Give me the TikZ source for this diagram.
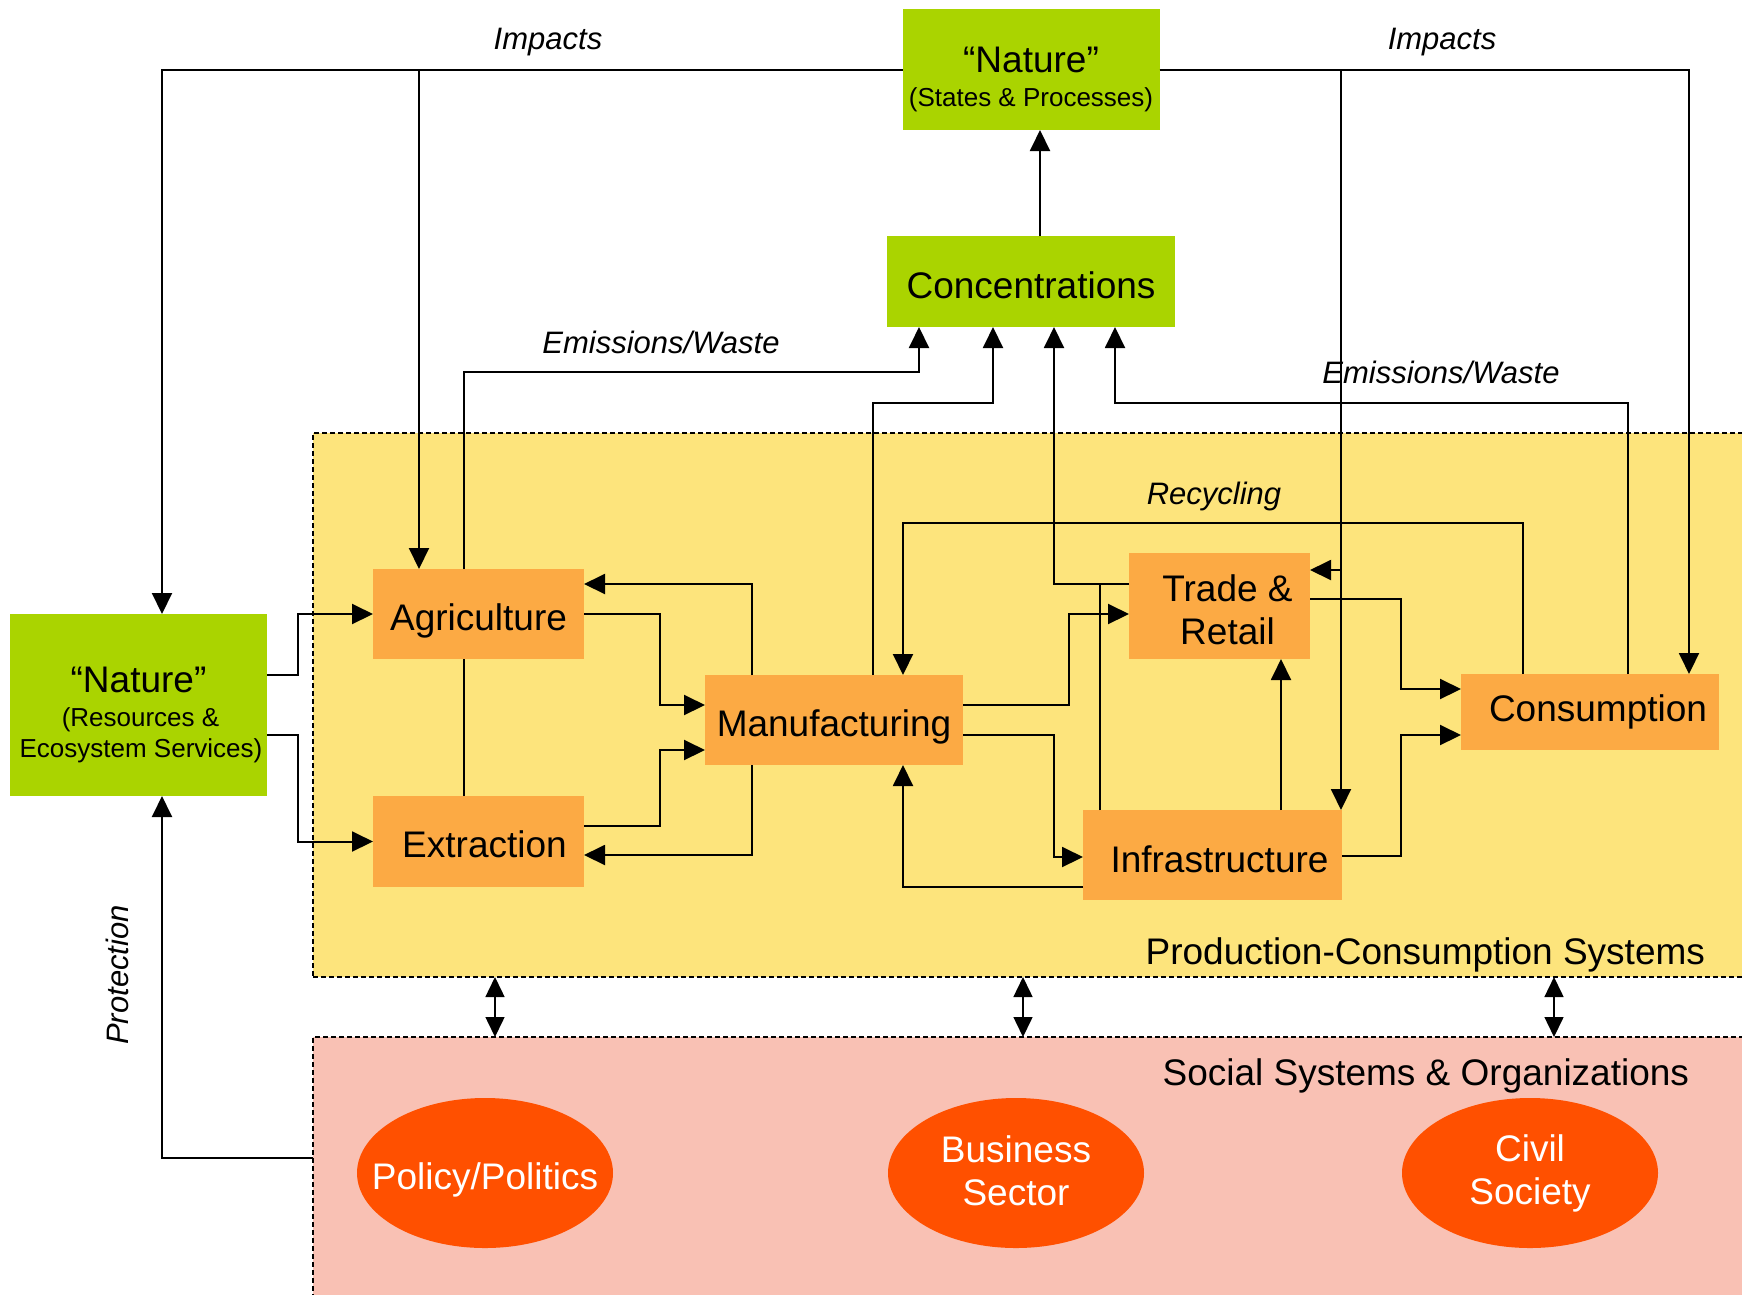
\documentclass[tikz,border=0pt]{standalone}
\usepackage{fontspec}
\setmainfont{Liberation Sans}
\usetikzlibrary{arrows.meta,shapes.geometric}
\definecolor{natgreen}{HTML}{AAD400}
\definecolor{boxorange}{HTML}{FCAA44}
\definecolor{prodyellow}{HTML}{FDE47C}
\definecolor{socpink}{HTML}{F9C1B4}
\definecolor{ellred}{HTML}{FF5000}
\begin{document}
\begin{tikzpicture}[x=1pt,y=-1pt,
  every node/.style={inner sep=0pt, outer sep=0pt},
  box/.style={rectangle, fill=boxorange, font=\fontsize{37}{43}\selectfont, align=center},
  one/.style={text height=32pt, text depth=0pt},
  gbox/.style={rectangle, fill=natgreen, align=center},
  ell/.style={ellipse, fill=ellred, text=white, minimum width=256pt, minimum height=150pt, inner xsep=-25pt, font=\fontsize{37}{43}\selectfont, align=center},
  arr/.style={line width=2pt, -{Triangle[length=21pt,width=20pt]}},
  plain/.style={line width=2pt},
  dbl/.style={line width=1.5pt, {Triangle[length=20pt,width=19pt]}-{Triangle[length=20pt,width=19pt]}},
  lab/.style={font=\itshape\fontsize{31}{36}\selectfont},
  big/.style={font=\fontsize{37}{43}\selectfont},
  region/.style={rectangle, draw=black, line width=1.8pt, dash pattern=on 5pt off 3pt}
]
\useasboundingbox (0,0) rectangle (1742,1294);
\clip (0,0) rectangle (1742,1294);
\fill[white] (0,0) rectangle (1742,1294);

% regions
\node[region, fill=prodyellow, minimum width=1467pt, minimum height=544pt] (prod) at (1046.5,705) {};
\node[region, fill=socpink, minimum width=1467pt, minimum height=273pt] (soc) at (1046.5,1173.5) {};

% boxes
\node[gbox, minimum width=257pt, minimum height=121pt, font=\fontsize{26}{31}\selectfont] (natS) at (1031,69.5)
  {{\fontsize{37}{37}\selectfont\rule{0pt}{45pt}“Nature”}\\[3pt](States \& Processes)};
\node[gbox, minimum width=288pt, minimum height=91pt, big, text height=34pt, text depth=0pt] (conc) at (1031,281.5) {Concentrations};
\node[gbox, minimum width=257pt, minimum height=182pt, font=\fontsize{26}{31}\selectfont] (natR) at (138.5,705)
  {{\fontsize{37}{37}\selectfont\rule{0pt}{45pt}“Nature”}\\[3pt]\hspace*{4pt}(Resources \&\\\hspace*{5pt}Ecosystem Services)};
\node[box, one, minimum width=211pt, minimum height=90pt] (agri) at (478.5,614) {Agriculture};
\node[box, one, minimum width=211pt, minimum height=91pt] (extr) at (478.5,841.5) {\hspace*{12pt}Extraction};
\node[box, one, minimum width=258pt, minimum height=90pt] (manu) at (834,720) {Manufacturing};
\node[box, minimum width=181pt, minimum height=106pt] (trade) at (1219.5,606) {\hspace*{16pt}\rule{0pt}{34pt}Trade \&\\\hspace*{16pt}Retail};
\node[box, one, minimum width=259pt, minimum height=90pt, text height=34pt] (infra) at (1212.5,855) {\hspace*{14pt}Infrastructure};
\node[box, one, minimum width=258pt, minimum height=76pt, text height=18pt] (cons) at (1590,712) {\hspace*{16pt}Consumption};

\node[ell, text height=32pt, text depth=0pt] (pol) at (485,1173) {Policy/Politics};
\node[ell] (bus) at (1016,1173) {Business\\Sector\rule[-4pt]{0pt}{4pt}};
\node[ell] (civ) at (1530,1173) {Civil\\Society};

% labels
\node[lab] (imp1) at (548,42) {Impacts};
\node[lab] (imp2) at (1442,42) {Impacts};
\node[lab] (em1) at (661,342) {Emissions/Waste};
\node[lab] (em2) at (1441,372) {Emissions/Waste};
\node[lab] (rec) at (1214,496) {Recycling};
\node[lab, rotate=90] (prot) at (117,975) {Protection};
\node[big, anchor=east] (pcs) at (1705,955) {Production-Consumption Systems};
\node[big, anchor=east] (sso) at (1689,1076) {Social Systems \& Organizations};

% junction coordinates
\coordinate (jT) at (1341,570);
\coordinate (jI) at (1100,584);

% impacts
\draw[arr] (natS.west) -| ([xshift=23.5pt]natR.north);
\draw[arr] (natS.west) -| ([xshift=-59.5pt]agri.north);
\draw[arr] (natS.east) -| ([xshift=99pt]cons.north);
\draw[arr] (natS.east) -| ([xshift=128.5pt]infra.north);
\draw[arr] (jT) -- ([yshift=36pt]trade.east);

% concentrations -> nature
\draw[arr] ([xshift=9pt]conc.north) -- ([xshift=9pt]natS.south);

% emissions / waste
\draw[plain] ([xshift=-14.5pt]extr.north) -- ([xshift=-14.5pt]agri.south);
\draw[arr] ([xshift=-14.5pt]agri.north) -- ++(0,-197) -| ([xshift=-112pt]conc.south);
\draw[arr] ([xshift=39pt]manu.north) -- ++(0,-272) -| ([xshift=-38pt]conc.south);
\draw[arr] ([yshift=22pt]trade.west) -| ([xshift=23pt]conc.south);
\draw[plain] ([xshift=-112.5pt]infra.north) -- (jI);
\draw[arr] ([xshift=38pt]cons.north) -- ++(0,-271) -| ([xshift=84pt]conc.south);

% nature -> primary sectors
\draw[arr] ([yshift=30pt]natR.east) -- ++(31,0) |- (agri.west);
\draw[arr] ([yshift=-30pt]natR.east) -- ++(31,0) |- (extr.west);

% agriculture / extraction <-> manufacturing
\draw[arr] (agri.east) -- ++(76,0) |- ([yshift=15pt]manu.west);
\draw[arr] ([yshift=15.5pt]extr.east) -- ++(76,0) |- ([yshift=-30pt]manu.west);
\draw[arr] ([xshift=-82pt]manu.north) |- ([yshift=30pt]agri.east);
\draw[arr] ([xshift=-82pt]manu.south) |- ([yshift=-13.5pt]extr.east);

% manufacturing -> trade / infrastructure
\draw[arr] ([yshift=15pt]manu.east) -- ++(106,0) |- ([yshift=-8pt]trade.west);
\draw[arr] ([yshift=-15pt]manu.east) -- ++(91,0) |- ([yshift=-2pt]infra.west);
\draw[arr] ([yshift=-32pt]infra.west) -| ([xshift=69pt]manu.south);
\draw[arr] ([xshift=68.5pt]infra.north) -- ([xshift=61.5pt]trade.south);

% -> consumption
\draw[arr] ([yshift=7pt]trade.east) -- ++(91,0) |- ([yshift=23pt]cons.west);
\draw[arr] ([yshift=-1pt]infra.east) -- ++(59,0) |- ([yshift=-23pt]cons.west);

% recycling
\draw[arr] ([xshift=-67pt]cons.north) -- ++(0,-151) -| ([xshift=69pt]manu.north);

% protection
\draw[arr] ([yshift=15.5pt]soc.west) -| ([xshift=23.5pt]natR.south);

% production <-> social
\foreach \dx in {-551.5,-23.5,507.5}
  \draw[dbl] ([xshift=\dx pt]prod.south) -- ([xshift=\dx pt]soc.north);
\end{tikzpicture}
\end{document}
